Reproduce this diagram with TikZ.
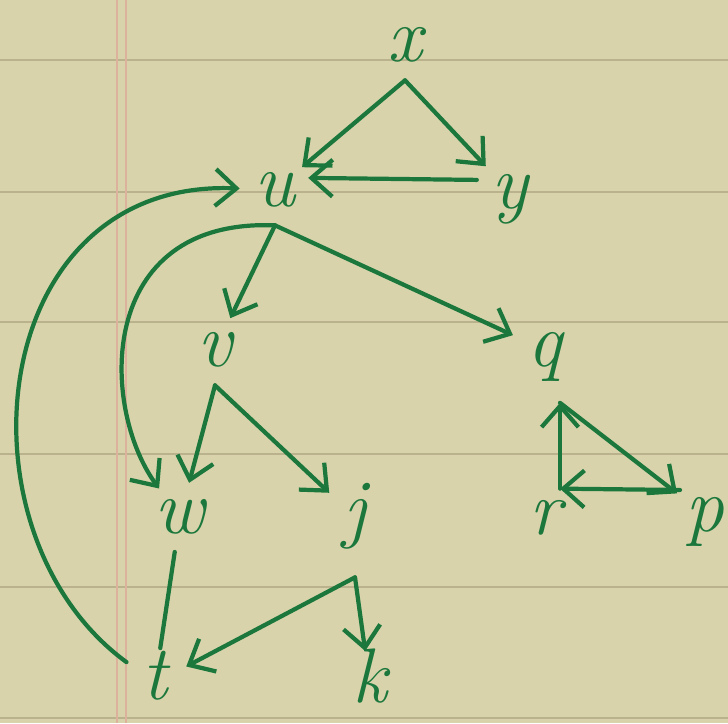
\documentclass[tikz,border=0pt]{standalone}
\usepackage{tikz}
\usetikzlibrary{arrows.meta, positioning, calc}
\usepackage{xcolor}
\definecolor{paper}{HTML}{D8D3AB}
\definecolor{rule}{HTML}{BAB18D}
\definecolor{margin}{HTML}{DDB29C}
\definecolor{ink}{HTML}{1B773C}

\begin{document}
\begin{tikzpicture}[
  vert/.style={circle, minimum size=1.4cm, inner sep=0pt, text=ink, text height=19pt, text depth=0pt, font=\fontsize{44}{48}\selectfont\itshape},
  link/.style={draw=ink, line width=2.4pt, line cap=round, line join=round},
  arr/.style={link, ->, >={Straight Barb[length=12pt, width=21pt]}},
  ruled/.style={draw=rule, line width=1.6pt},
  marg/.style={draw=margin, line width=1.4pt}
]
\useasboundingbox (0,0) rectangle (14.56,14.46);
% paper
\fill[paper] (0,0) rectangle (14.56,14.46);
\foreach \ly in {13.26,10.62,8.02,5.38,2.72,0.10}
  \draw[ruled] (0,\ly) -- (14.56,\ly);
\draw[marg] (2.34,0) -- (2.34,14.46);
\draw[marg] (2.52,0) -- (2.52,14.46);

% vertices
\node[vert] (x) at (8.10,13.56) {x};
\node[vert] (u) at (5.50,10.66) {u};
\node[vert] (y) at (10.20,10.62) {y};
\node[vert] (v) at (4.30,7.46) {v};
\node[vert] (q) at (10.90,7.46) {q};
\node[vert] (w) at (3.60,4.12) {w};
\node[vert] (j) at (7.10,4.12) {j};
\node[vert] (r) at (10.90,4.10) {r};
\node[vert] (p) at (14.10,4.16) {p};
\node[vert] (t) at (3.10,0.80) {t};
\node[vert] (k) at (7.40,0.74) {k};

\coordinate (jt) at ([yshift=-0.5cm]j.south);
\coordinate (qt) at ([xshift=0.3cm,yshift=-0.35cm]q.south);
\coordinate (rt) at ([xshift=0.3cm,yshift=-0.12cm]r.north);

% edges
\draw[arr] (x.south) -- (u);
\draw[arr] (x.south) -- (y);
\draw[arr] (y.160) -- (u.20);
\draw[arr] (u.south) -- (v);
\draw[arr] (u.south) -- (q);
\draw[arr] (u.south) .. controls (1.9,10.1) and (2.0,6.3) .. (w);
\draw[arr] (t) .. controls (-1.0,3.8) and (-0.3,10.9) .. (u);
\draw[arr] (v.south) -- (w);
\draw[arr] (v.south) -- (j);
\draw[link] (w) -- (t);
\draw[arr] (jt) -- (t);
\draw[arr] (jt) -- (k);
\draw[arr] (qt) -- (p);
\draw[arr] (p.135) -- (rt);
\draw[arr] (rt) -- (qt);
\end{tikzpicture}
\end{document}
